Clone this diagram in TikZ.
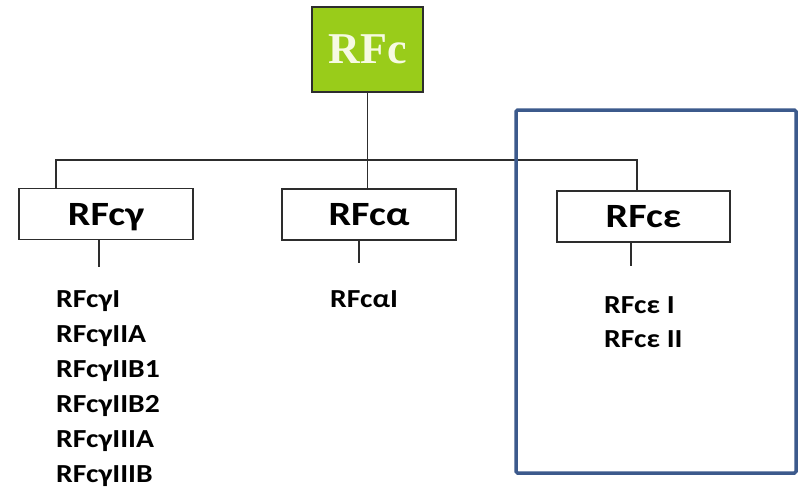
\documentclass[tikz,border=0pt]{standalone}
\usepackage{fontspec}
\setmainfont{Carlito}
\newfontfamily\topserif{Liberation Serif}
\definecolor{limegreen}{RGB}{153,204,26}
\definecolor{topwhite}{RGB}{246,250,226}
\definecolor{framblue}{RGB}{60,90,140}
\definecolor{linegray}{RGB}{45,45,45}
\newcommand{\wtxt}[1]{\scalebox{1.18}[1]{#1}}
\newcommand{\ltxt}[1]{\scalebox{1.14}[1]{#1}}
\tikzset{
  topbox/.style={draw=linegray, line width=1.4pt, fill=limegreen, minimum width=111pt, minimum height=85pt, inner sep=0pt,
    font=\topserif\bfseries\fontsize{44}{44}\selectfont, text=topwhite},
  catbox/.style={draw=linegray, line width=1.3pt, fill=white, minimum width=174pt, minimum height=51pt, inner sep=0pt,
    text height=22pt, text depth=0pt, font=\bfseries\fontsize{34}{34}\selectfont},
  item/.style={anchor=base west, inner sep=0pt, font=\bfseries\fontsize{26}{26}\selectfont},
  conn/.style={draw=linegray, line width=1.3pt},
  frame/.style={draw=framblue, line width=3.5pt, rounded corners=1.5pt}
}
\begin{document}
\begin{tikzpicture}[x=1pt,y=-1pt]
\useasboundingbox[fill=white] (0,0) rectangle (803,490);
% top node
\node[topbox] (top) at (367.5,49.5) {RFc};
% category boxes
\node[catbox] (gamma) at (106,214) {\wtxt{RFcγ}};
\node[catbox] (alpha) at (369,214.5) {\wtxt{RFcα}};
\node[catbox, minimum width=173pt] (eps) at (643.5,216.5) {\wtxt{RFcε}};
% bus coordinates
\coordinate (gL) at (56,160);
\coordinate (eR) at (637,160);
\coordinate (gS) at (99,267);
\coordinate (aS) at (359,263);
\coordinate (eS) at (631,266);
% connectors
\draw[conn] (top.south) -- (top.south |- alpha.north);
\draw[conn] (gL |- gamma.north) -- (gL) -- (eR) -- (eR |- eps.north);
\draw[conn] (gS |- gamma.south) -- (gS);
\draw[conn] (aS |- alpha.south) -- (aS);
\draw[conn] (eS |- eps.south) -- (eS);
% items
\node[item] (g1) at (56,307) {\ltxt{RFcγI}};
\node[item] (g2) at (56,342) {\ltxt{RFcγIIA}};
\node[item] (g3) at (56,377) {\ltxt{RFcγIIB1}};
\node[item] (g4) at (56,412) {\ltxt{RFcγIIB2}};
\node[item] (g5) at (56,447) {\ltxt{RFcγIIIA}};
\node[item] (g6) at (56,482) {\ltxt{RFcγIIIB}};
\node[item] (a1) at (330,307) {\ltxt{RFcαI}};
\node[item] (e1) at (604,313) {\ltxt{RFcε I}};
\node[item] (e2) at (604,347) {\ltxt{RFcε II}};
% highlight frame
\draw[frame] (516,110) rectangle (796,473);
\end{tikzpicture}
\end{document}
